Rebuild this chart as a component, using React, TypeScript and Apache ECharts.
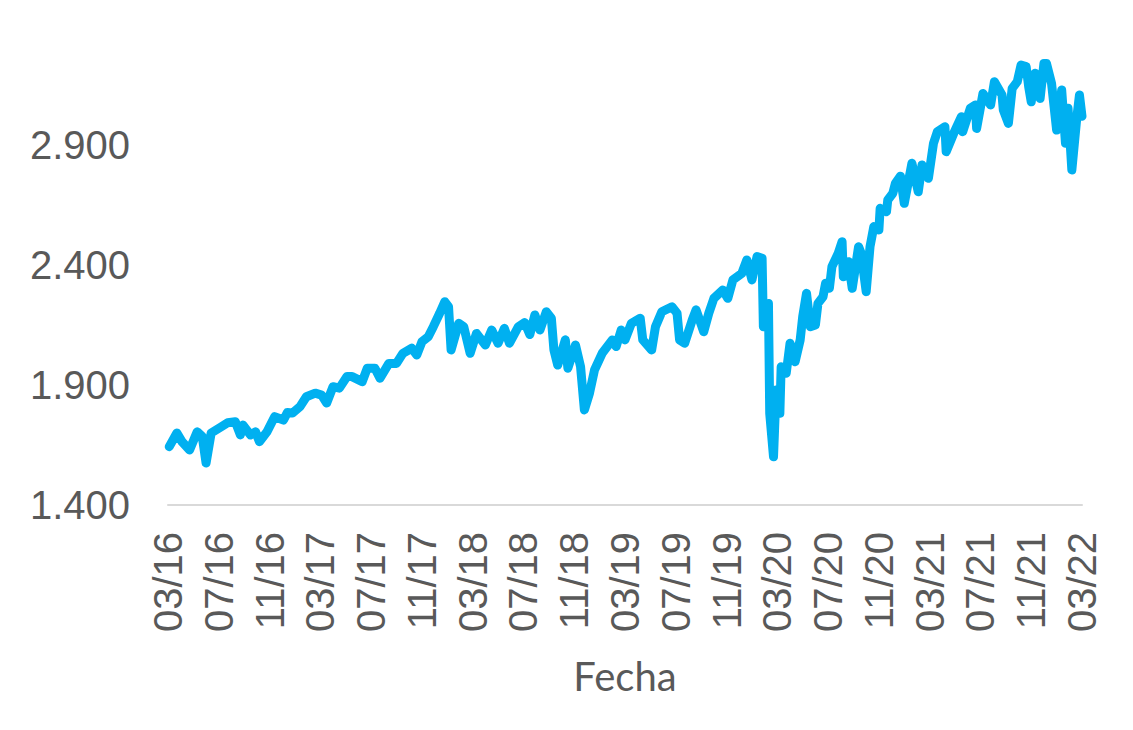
import React, { useEffect, useRef } from "react";
import * as echarts from "echarts";

// Months elapsed since 03/2016 (x position of each reading)
const meses = [0.1, 0.7, 1.1, 1.7, 2.3, 2.7, 3.0, 3.4, 4.2, 4.7, 5.3, 5.7, 5.9, 6.5, 6.9, 7.2, 7.8, 8.4, 9.1, 9.4, 9.8, 10.4, 10.9, 11.6, 12.1, 12.5, 13.0, 13.5, 14.1, 14.5, 15.3, 15.7, 16.3, 16.7, 17.4, 18.0, 18.5, 19.2, 19.6, 20.0, 20.5, 20.9, 21.4, 21.8, 22.1, 22.3, 22.9, 23.3, 23.8, 24.3, 25.0, 25.5, 26.0, 26.5, 26.9, 27.6, 28.1, 28.5, 28.9, 29.3, 29.8, 30.2, 30.4, 30.7, 31.3, 31.5, 32.1, 32.5, 32.8, 33.2, 33.6, 34.2, 35.0, 35.3, 35.7, 36.0, 36.5, 37.2, 37.4, 38.1, 38.4, 38.9, 39.7, 40.1, 40.3, 40.7, 41.3, 41.6, 42.2, 42.6, 43.0, 43.7, 44.1, 44.5, 45.2, 45.6, 46.0, 46.4, 46.8, 46.9, 47.3, 47.4, 47.7, 47.9, 48.2, 48.3, 48.7, 49.0, 49.4, 49.8, 50.0, 50.3, 50.6, 51.0, 51.2, 51.6, 51.8, 52.1, 52.3, 52.8, 53.1, 53.2, 53.6, 53.9, 54.4, 54.6, 55.0, 55.3, 55.6, 56.0, 56.1, 56.6, 56.7, 57.1, 57.3, 57.7, 58.0, 58.6, 59.1, 59.4, 59.9, 60.3, 60.6, 61.2, 61.3, 61.9, 62.5, 62.6, 63.2, 63.6, 63.7, 64.2, 64.8, 65.1, 65.7, 65.8, 66.2, 66.5, 66.9, 67.2, 67.6, 67.8, 68.0, 68.3, 68.7, 69.0, 69.2, 69.6, 70.0, 70.4, 70.7, 70.9, 71.2, 71.6, 71.8, 72.0];

const valores = [1643, 1700, 1664, 1629, 1705, 1685, 1575, 1700, 1726, 1743, 1747, 1692, 1733, 1692, 1705, 1664, 1705, 1768, 1754, 1785, 1783, 1810, 1851, 1866, 1858, 1825, 1893, 1887, 1935, 1935, 1914, 1970, 1970, 1928, 1990, 1990, 2032, 2053, 2025, 2080, 2101, 2143, 2199, 2247, 2226, 2046, 2157, 2143, 2032, 2115, 2067, 2129, 2074, 2136, 2074, 2143, 2160, 2110, 2192, 2129, 2205, 2178, 2046, 1983, 2088, 1970, 2067, 1976, 1796, 1865, 1963, 2032, 2088, 2060, 2129, 2088, 2157, 2178, 2088, 2046, 2143, 2205, 2226, 2199, 2088, 2074, 2171, 2213, 2122, 2199, 2261, 2296, 2261, 2338, 2365, 2421, 2338, 2435, 2428, 2143, 2240, 1782, 1601, 1879, 1782, 1976, 1949, 2074, 1997, 2088, 2185, 2282, 2143, 2150, 2240, 2268, 2324, 2303, 2393, 2449, 2497, 2351, 2414, 2303, 2476, 2449, 2289, 2476, 2560, 2546, 2636, 2622, 2671, 2699, 2740, 2770, 2657, 2824, 2705, 2817, 2761, 2907, 2955, 2976, 2872, 2949, 3018, 2955, 3053, 3067, 2969, 3115, 3067, 3164, 3108, 3046, 2990, 3136, 3164, 3233, 3227, 3143, 3080, 3199, 3094, 3240, 3240, 3157, 2962, 3129, 2907, 3053, 2796, 3018, 3108, 3020];

// Tick labels every 4 months
const etiquetasFecha = ["03/16", "07/16", "11/16", "03/17", "07/17", "11/17", "03/18", "07/18", "11/18", "03/19", "07/19", "11/19", "03/20", "07/20", "11/20", "03/21", "07/21", "11/21", "03/22"];
const etiquetasY = ["1.400", "1.900", "2.400", "2.900"];
const yMin = 1400;
const yMax = 3400;
const yPaso = 500;

export default function App() {
  const ref = useRef<HTMLDivElement>(null);
  useEffect(() => {
    if (!ref.current) return;
    const chart = echarts.init(ref.current, null, { renderer: "svg" });
    const data = meses.map((m, i) => [m, valores[i]]);
    chart.setOption({
      animation: false,
      backgroundColor: "#ffffff",
      grid: { left: 168, right: 51, top: 25, bottom: 225 },
      xAxis: {
        type: "value",
        min: 0,
        max: 72,
        interval: 4,
        name: "Fecha",
        nameLocation: "middle",
        nameGap: 151,
        nameTextStyle: { fontFamily: "Lato", fontSize: 40, color: "#595959" },
        axisLine: { show: true, lineStyle: { color: "#D9D9D9", width: 2 } },
        axisTick: { show: false },
        splitLine: { show: false },
        axisLabel: {
          rotate: 90,
          margin: 27,
          fontFamily: "Liberation Sans",
          fontSize: 40,
          color: "#595959",
          formatter: (v: number) => etiquetasFecha[Math.round(v / 4)] ?? "",
        },
      },
      yAxis: {
        type: "value",
        min: yMin,
        max: yMax,
        interval: yPaso,
        axisLine: { show: false },
        axisTick: { show: false },
        splitLine: { show: false },
        axisLabel: {
          margin: 38,
          fontFamily: "Liberation Sans",
          fontSize: 40,
          color: "#595959",
          formatter: (v: number) => etiquetasY[Math.round((v - yMin) / yPaso)] ?? "",
        },
      },
      series: [
        {
          type: "line",
          data,
          showSymbol: false,
          symbol: "none",
          lineStyle: { color: "#00B0F0", width: 9, join: "round", cap: "round" },
        },
      ],
    });
    return () => chart.dispose();
  }, []);
  return (
    <div
      ref={ref}
      style={{ position: "absolute", left: 0, top: 0, width: 1133, height: 730 }}
    />
  );
}
